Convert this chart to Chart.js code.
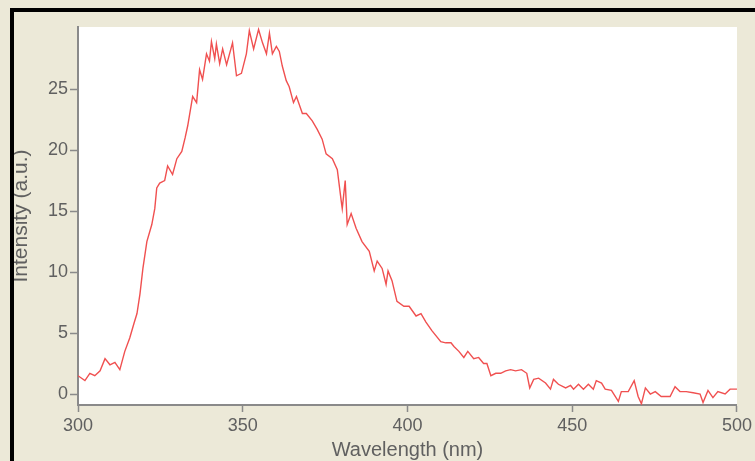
<!DOCTYPE html>
<html>
<head>
<meta charset="utf-8">
<script src="https://cdn.jsdelivr.net/npm/chart.js@4"></script>
<style>
html, body { margin: 0; padding: 0; background: #ece9d8; }
#wrap { position: relative; width: 755px; height: 461px; overflow: hidden; }
#frameTop { position: absolute; left: 10px; top: 8px; width: 745px; height: 4px; background: #000; }
#frameLeft { position: absolute; left: 10px; top: 8px; width: 4px; height: 453px; background: #000; }
canvas { position: absolute; left: 0; top: 0; }
</style>
</head>
<body>
<div id="wrap">
  <canvas id="myChart" width="755" height="461"></canvas>
  <div id="frameTop"></div>
  <div id="frameLeft"></div>
</div>
<script>
// spectrum (nm, a.u.)
const wavelength = [
  300, 302.1, 303.6, 305.1, 306.7, 308.2, 309.7, 311.2, 312.7, 314.2,
  315.7, 317.0, 317.9, 318.8, 319.7, 320.9, 322.4, 323.3, 323.9, 324.8,
  326.3, 327.2, 328.7, 330.0, 331.5, 332.5, 333.3, 334.8, 336.0, 336.9,
  337.8, 339.0, 339.9, 340.5, 341.5, 342.0, 343.0, 343.9, 345.1, 346.9,
  348.1, 349.6, 351.1, 352.0, 353.3, 354.8, 356.0, 357.2, 358.1, 359.0,
  360.2, 361.1, 362.0, 363.2, 364.1, 365.4, 366.3, 368.1, 369.3, 371.1,
  372.6, 374.1, 375.3, 377.2, 378.7, 379.9, 380.2, 381.1, 381.7, 382.9,
  384.4, 386.2, 388.4, 389.9, 390.8, 392.3, 393.5, 394.1, 395.3, 396.8,
  398.9, 400.5, 402.6, 404.1, 405.6, 407.4, 410.1, 411.6, 413.2, 414.1,
  415.6, 417.1, 418.3, 420.1, 421.6, 423.1, 424.1, 425.3, 426.8, 428.3,
  429.8, 431.3, 432.8, 434.6, 436.2, 437.1, 438.3, 439.8, 441.9, 443.4,
  444.3, 445.8, 448.0, 449.5, 450.4, 451.9, 453.4, 454.9, 456.4, 457.3,
  458.9, 460.0, 461.9, 464.0, 464.9, 467.0, 468.8, 470.0, 471.0, 472.2,
  473.7, 475.2, 477.0, 479.7, 481.2, 482.7, 484.6, 486.7, 488.8, 489.7,
  491.2, 492.7, 494.2, 496.4, 497.9, 500
];
const intensity = [
  1.5, 1.1, 1.7, 1.5, 1.9, 2.9, 2.4, 2.6, 2.0, 3.5,
  4.6, 5.8, 6.6, 8.2, 10.3, 12.5, 13.9, 15.2, 16.9, 17.3,
  17.5, 18.7, 18.0, 19.3, 19.9, 21.0, 22.0, 24.4, 23.9, 26.6,
  25.8, 27.9, 27.3, 28.9, 27.5, 28.7, 27.1, 28.3, 27.0, 28.8,
  26.1, 26.3, 27.9, 29.8, 28.3, 29.9, 28.8, 27.9, 29.6, 27.9,
  28.5, 28.1, 26.9, 25.7, 25.2, 23.9, 24.4, 23.0, 23.0, 22.4,
  21.7, 20.9, 19.7, 19.3, 18.4, 15.8, 15.2, 17.5, 13.9, 14.8,
  13.6, 12.5, 11.7, 10.1, 10.9, 10.3, 9.0, 10.1, 9.3, 7.6,
  7.2, 7.2, 6.4, 6.6, 5.9, 5.2, 4.3, 4.2, 4.2, 3.9,
  3.5, 3.0, 3.5, 2.9, 3.0, 2.5, 2.5, 1.5, 1.7, 1.7,
  1.9, 2.0, 1.9, 2.0, 1.7, 0.5, 1.2, 1.3, 0.9, 0.4,
  1.2, 0.8, 0.5, 0.7, 0.4, 0.8, 0.4, 0.8, 0.4, 1.1,
  0.9, 0.4, 0.3, -0.6, 0.2, 0.2, 1.1, -0.2, -0.8, 0.5,
  0.0, 0.2, -0.2, -0.2, 0.6, 0.2, 0.2, 0.1, 0.0, -0.7,
  0.3, -0.3, 0.2, 0.0, 0.4, 0.4
];
const yTicks = [0, 5, 10, 15, 20, 25];
const xTitle = 'Wavelength (nm)';
const yTitle = 'Intensity (a.u.)';

const points = wavelength.map((w, i) => ({ x: w, y: intensity[i] }));

const whiteArea = {
  id: 'whiteArea',
  beforeDraw(chart) {
    const a = chart.chartArea;
    chart.ctx.save();
    chart.ctx.fillStyle = '#ffffff';
    chart.ctx.fillRect(a.left, a.top, a.right - a.left, a.bottom - a.top);
    chart.ctx.restore();
  }
};

const tickFont = { family: 'Liberation Sans', size: 18 };
const axisGray = '#8a8a8a';
const textGray = '#606060';

const ctx = document.getElementById('myChart').getContext('2d');
const myChart = new Chart(ctx, {
  type: 'line',
  data: {
    datasets: [{
      data: points,
      borderColor: 'rgb(240, 80, 80)',
      borderWidth: 1.4,
      pointRadius: 0,
      tension: 0,
      fill: false
    }]
  },
  options: {
    responsive: false,
    animation: false,
    devicePixelRatio: 1,
    layout: { padding: { top: 27, right: 16, left: 0, bottom: 0 } },
    plugins: { legend: { display: false }, tooltip: { enabled: false } },
    scales: {
      x: {
        type: 'linear',
        min: 300,
        max: 500,
        afterFit: s => { s.height = 56; },
        ticks: { stepSize: 50, color: textGray, font: tickFont, padding: 3, maxRotation: 0 },
        grid: { drawOnChartArea: false, tickLength: 7, color: axisGray, tickWidth: 1.5 },
        border: { display: true, color: axisGray, width: 2 },
        title: { display: true, text: xTitle, color: textGray, font: { family: 'Liberation Sans', size: 20, lineHeight: 1.1 }, padding: { top: 0, bottom: 0 } }
      },
      y: {
        min: -0.9,
        max: 30.1,
        afterFit: s => { s.width = 78; },
        afterBuildTicks: s => { s.ticks = yTicks.map(v => ({ value: v })); },
        ticks: { color: textGray, font: tickFont, padding: 2 },
        grid: { drawOnChartArea: false, tickLength: 8, color: axisGray, tickWidth: 1.5 },
        border: { display: true, color: axisGray, width: 2 },
        title: { display: true, text: yTitle, color: textGray, font: { family: 'Liberation Sans', size: 21, lineHeight: 1.1 }, padding: { top: 10, bottom: 0 } }
      }
    }
  },
  plugins: [whiteArea]
});
</script>
</body>
</html>
